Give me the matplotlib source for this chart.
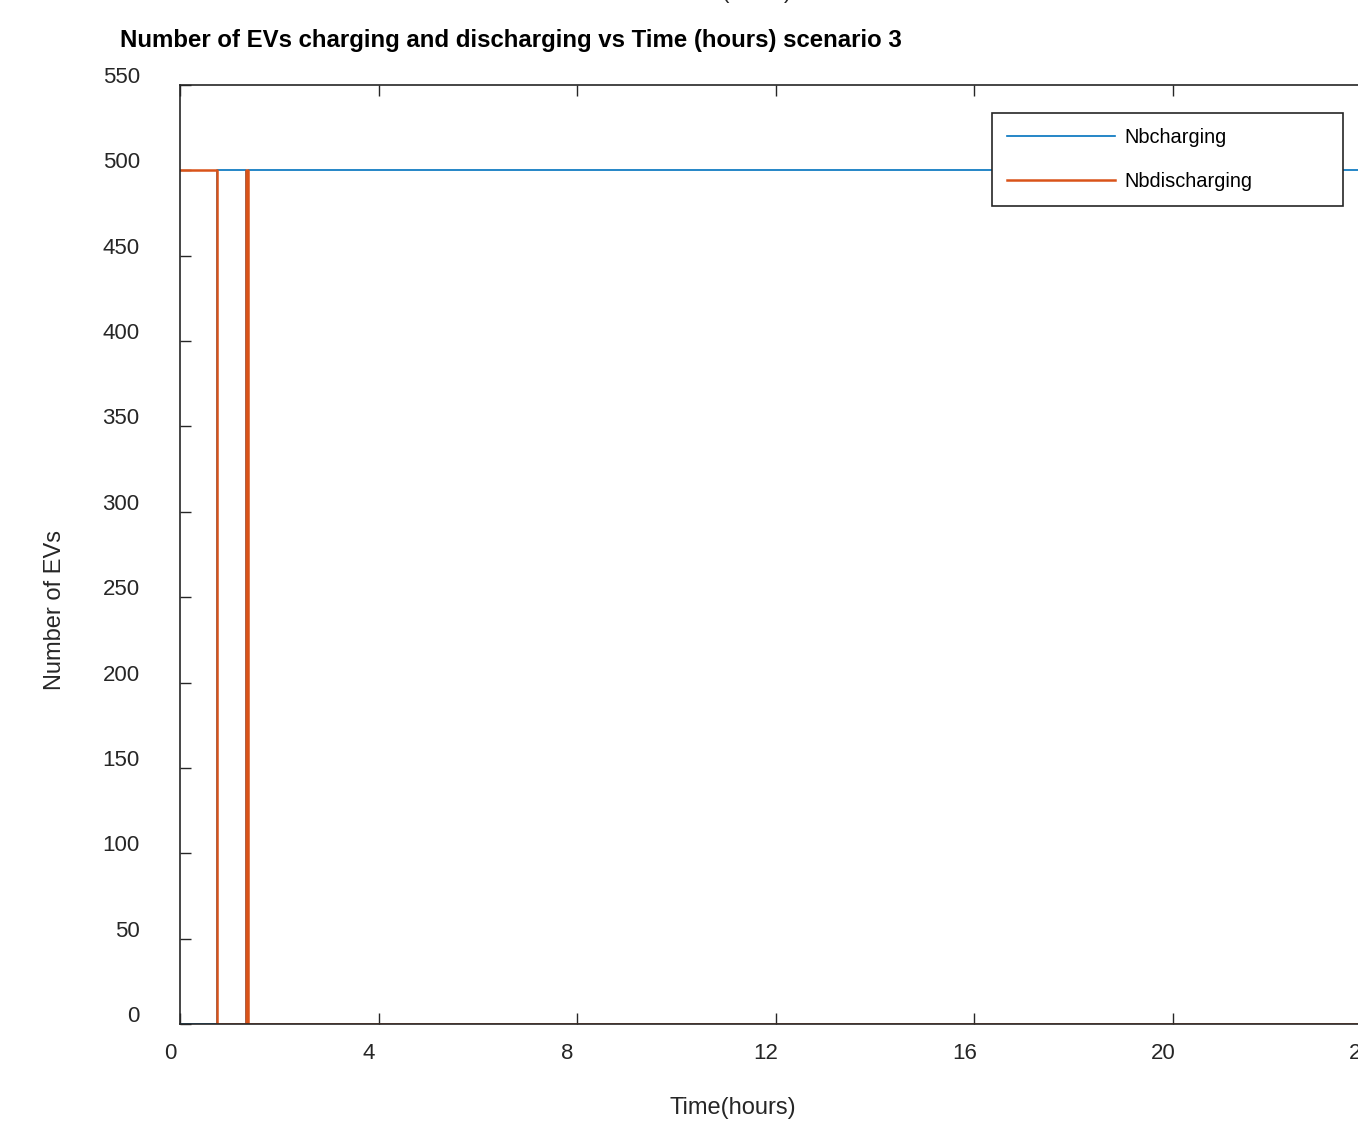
import numpy as np
import matplotlib.pyplot as plt
import matplotlib.transforms as mtransforms

plt.rcParams['font.family'] = ['Liberation Sans', 'DejaVu Sans']

# step data
t_steps = [0, 0.75, 0.75, 1.32, 1.32, 1.37, 1.37, 24]
nb_charging = [0, 0, 500, 500, 0, 0, 500, 500]
nb_discharging = [500, 500, 0, 0, 500, 500, 0, 0]
x_ticks = [0, 4, 8, 12, 16, 20, 24]
y_ticks = list(range(0, 551, 50))

blue = '#0072BD'
orange = '#D95319'
dark = '#262626'

W, H = 1358, 1124
fig = plt.figure(figsize=(W / 100, H / 100), dpi=100)
# axes runs past the right edge (original figure was cropped)
left, right, top, bottom = 180, 1371.6, 85, 1024
ax = fig.add_axes([left / W, 1 - bottom / H, (right - left) / W, (bottom - top) / H])

ax.plot(t_steps, nb_charging, color=blue, lw=1.2, label='Nbcharging')
ax.plot(t_steps, nb_discharging, color=orange, lw=1.8, label='Nbdischarging')

ax.set_xlim(0, 24)
ax.set_ylim(0, 550)
ax.set_xticks(x_ticks)
ax.set_yticks(y_ticks)
ax.tick_params(direction='in', length=8, width=1, colors=dark, labelsize=16,
               top=True, right=True)
ax.tick_params(axis='y', pad=29)
ax.tick_params(axis='x', pad=14)
for s in ax.spines.values():
    s.set_color(dark)
    s.set_linewidth(1.2)

# matlab-ish label offsets
dy = mtransforms.ScaledTranslation(0, 10 / 100, fig.dpi_scale_trans)
dx = mtransforms.ScaledTranslation(-10 / 100, 0, fig.dpi_scale_trans)
for lab in ax.get_yticklabels():
    lab.set_transform(lab.get_transform() + dy)
for lab in ax.get_xticklabels():
    lab.set_transform(lab.get_transform() + dx)

fig.text(120 / W, 1 - 41 / H, 'Number of EVs charging and discharging vs Time (hours) scenario 3',
         fontsize=17.3, fontweight='bold', ha='left', va='center')
fig.text(733 / W, 1 - 1108 / H, 'Time(hours)', fontsize=17, color=dark,
         ha='center', va='center')
fig.text(55 / W, 1 - 610 / H, 'Number of EVs', fontsize=17, color=dark,
         rotation=90, ha='center', va='center')
# bit of a caption cut off by the top edge
fig.text(722 / W, 1 + 2 / H, '(hours)', fontsize=16, color=dark,
         ha='left', va='baseline')

leg = ax.legend(loc='upper left', mode='expand',
                bbox_to_anchor=(992 / W, 1 - 214 / H, 351 / W, 101 / H),
                bbox_transform=fig.transFigure, borderaxespad=0,
                fontsize=14.4, handlelength=5.4, handletextpad=0.45,
                labelspacing=1.25, borderpad=0.75, fancybox=False,
                framealpha=1, edgecolor=dark)
leg.get_frame().set_linewidth(1.2)

fig.savefig('out.png', dpi=100)
